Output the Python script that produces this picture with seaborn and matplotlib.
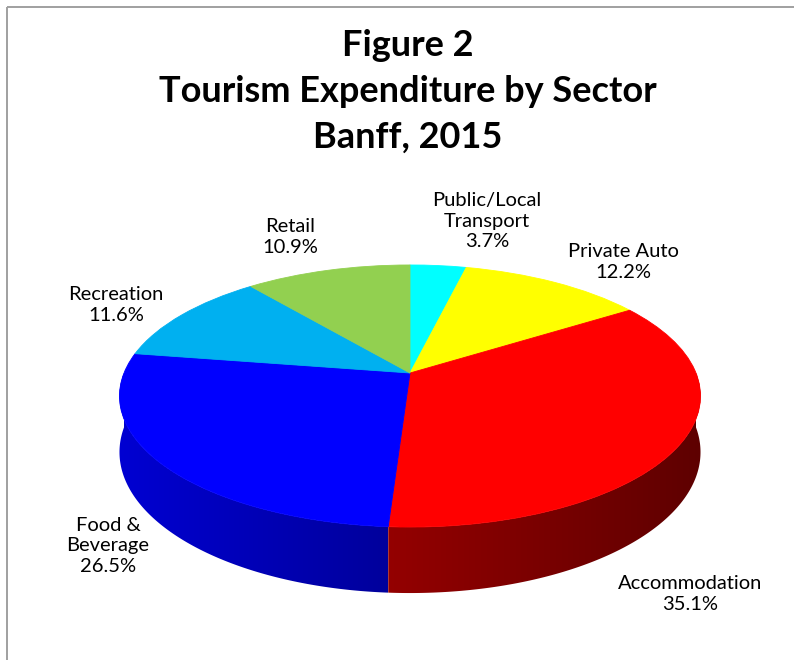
import numpy as np
import matplotlib
matplotlib.use("Agg")
import matplotlib.pyplot as plt
import matplotlib.transforms as mtransforms
from matplotlib.patches import Rectangle, Polygon
from matplotlib.colors import to_rgb
import seaborn as sns

# ---------------- data ----------------
sectors = ["Public/Local\nTransport", "Private Auto", "Accommodation",
           "Food &\nBeverage", "Recreation", "Retail"]
shares = [3.7, 12.2, 35.1, 26.5, 11.6, 10.9]
top_colors = ["#00FFFF", "#FFFF00", "#FF0000", "#0000FF", "#00B0F0", "#92D050"]
side_left = ["#00D0D0", "#D0D000", "#940000", "#0000D2", "#0090C8", "#78B040"]
side_right = ["#00A0A0", "#A0A000", "#5E0000", "#00009C", "#006C98", "#5C8A30"]
title_lines = ["Figure 2", "Tourism Expenditure by Sector", "Banff, 2015"]

# ---------------- style ----------------
sns.set_theme(style="white")
plt.rcParams["font.family"] = ["Lato", "DejaVu Sans"]

W, H = 794, 660
fig = plt.figure(figsize=(W / 100, H / 100), dpi=100)
ax = fig.add_axes([0, 0, 1, 1])

# perspective projection of the tilted disc (pixel space)
CX, CY = 410.0, 373.0
RX, RY, PB, DEPTH = 286.0, 127.0, 0.1756, 54.4


def project(x, y, z=0.0):
    d = 1.0 + PB * y
    return CX + RX * x / d, CY - (RY * y + DEPTH * z) / d


class Perspective(mtransforms.Transform):
    input_dims = 2
    output_dims = 2

    def transform_non_affine(self, values):
        values = np.asarray(values, dtype=float)
        px, py = project(values[:, 0], values[:, 1])
        return np.column_stack([px, py])

    def inverted(self):
        return None


# side walls (drawn first, beneath the top surface), with horizontal shading
cum = np.concatenate([[0.0], np.cumsum(shares)])
bounds = 90.0 - 3.6 * cum
for i in range(len(shares)):
    t0, t1 = bounds[i], bounds[i + 1]
    for shift in (-360.0, 0.0, 360.0):
        lo = max(t1 + shift, -180.0)
        hi = min(t0 + shift, 0.0)
        if lo >= hi:
            continue
        angs = np.radians(np.linspace(lo, hi, 200))
        xs, ys = np.cos(angs), np.sin(angs)
        tx, ty = project(xs, ys, 0.0)
        bx, by = project(xs, ys, -1.0)
        px = np.concatenate([tx, bx[::-1]])
        py = np.concatenate([ty, by[::-1]])
        poly = Polygon(np.column_stack([px, py]), closed=True, fc="none", ec="none",
                       transform=ax.transData)
        ax.add_patch(poly)
        cl = np.array(to_rgb(side_left[i]))
        cr = np.array(to_rgb(side_right[i]))
        f = np.linspace(0, 1, 256)[None, :, None]
        grad = cl[None, None, :] + (cr - cl)[None, None, :] * f
        grad = np.repeat(grad, 2, axis=0)
        ax.imshow(grad, extent=(px.min(), px.max(), py.max() + 1, py.min() - 1),
                  clip_path=poly, interpolation="bilinear", zorder=1)
        # thin matching outline to smooth the clipped edge
        ax.fill(px, py, fc="none", ec=cr * 0.5 + cl * 0.5, lw=0.0, zorder=1)

# top surface: pie wedges through a perspective transform
wedges, _ = ax.pie(shares, colors=top_colors, startangle=90, counterclock=False,
                   radius=1.0, wedgeprops=dict(linewidth=0.6))
persp = Perspective()
for w, c in zip(wedges, top_colors):
    w.set_transform(persp + ax.transData)
    w.set_edgecolor(c)
    w.set_zorder(3)

ax.set_aspect("auto")
ax.set_xlim(0, W)
ax.set_ylim(H, 0)
ax.axis("off")

# outer border (top & left visible)
ax.add_patch(Rectangle((7, 7), W + 20, H + 20, fill=False, ec="#A0A0A0", lw=1.4,
                       zorder=0, clip_on=False))

# title
for txt, y in zip(title_lines, [45, 92, 137]):
    ax.text(408, y, txt, ha="center", va="center", fontsize=26, fontweight="bold",
            color="black", zorder=5)

# data labels
label_pos = [(487, 221), (623, 262), (690, 594), (108, 546), (116, 305), (290, 237)]
for name, s, (lx, ly) in zip(sectors, shares, label_pos):
    ax.text(lx, ly, f"{name}\n{s:.1f}%", ha="center", va="center", fontsize=14.5,
            linespacing=1.22, color="black", zorder=5)

fig.savefig("out.png", dpi=100)
